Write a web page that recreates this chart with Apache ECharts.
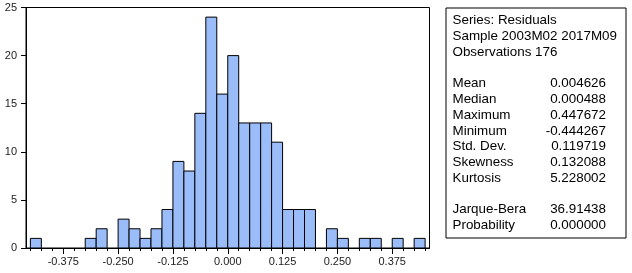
<!DOCTYPE html>
<html>
<head>
<meta charset="utf-8">
<script src="https://cdn.jsdelivr.net/npm/echarts@6/dist/echarts.min.js"></script>
<style>
  html, body { margin: 0; padding: 0; background: #fff; }
  #chart { width: 632px; height: 273px; }
</style>
</head>
<body>
<div id="chart"></div>
<script>
// histogram bins (lower edge, upper edge) and counts
const binLow = [-0.45, -0.425, -0.4, -0.375, -0.35, -0.325, -0.3, -0.275, -0.25, -0.225,
  -0.2, -0.175, -0.15, -0.125, -0.1, -0.075, -0.05, -0.025, 0, 0.025,
  0.05, 0.075, 0.1, 0.125, 0.15, 0.175, 0.2, 0.225, 0.25, 0.275,
  0.3, 0.325, 0.35, 0.375, 0.4, 0.425];
const binWidth = 0.025;
const counts = [1, 0, 0, 0, 0, 1, 2, 0, 3, 2,
  1, 2, 4, 9, 8, 14, 24, 16, 20, 13,
  13, 13, 11, 4, 4, 4, 0, 2, 1, 0,
  1, 1, 0, 1, 0, 1];
const xTickLabels = [-0.375, -0.25, -0.125, 0, 0.125, 0.25, 0.375];
const xMinorTicks = [-0.45, -0.425, -0.4, -0.375, -0.35, -0.325, -0.3, -0.275, -0.25, -0.225,
  -0.2, -0.175, -0.15, -0.125, -0.1, -0.075, -0.05, -0.025, 0, 0.025,
  0.05, 0.075, 0.1, 0.125, 0.15, 0.175, 0.2, 0.225, 0.25, 0.275,
  0.3, 0.325, 0.35, 0.375, 0.4, 0.425, 0.45];

// statistics box
const headerLines = ['Series: Residuals', 'Sample 2003M02 2017M09', 'Observations 176'];
const statNames = ['Mean', 'Median', 'Maximum', 'Minimum', 'Std. Dev.', 'Skewness', 'Kurtosis'];
const statValues = ['0.004626', '0.000488', '0.447672', '-0.444267', '0.119719', '0.132088', '5.228002'];
const testNames = ['Jarque-Bera', 'Probability'];
const testValues = ['36.91438', '0.000000'];

const chart = echarts.init(document.getElementById('chart'), null, { renderer: 'canvas' });

const FONT = 'Liberation Sans';
const boxTextSize = 13.4;
const lineStep = 15.75;
const firstLine = 21;

const boxTexts = [];
function addLine(i, label, value) {
  const y = firstLine + i * lineStep;
  boxTexts.push({
    type: 'text', left: 452.5, top: y - boxTextSize / 2,
    style: { text: label, fill: '#000', font: boxTextSize + 'px "' + FONT + '"' }
  });
  if (value !== undefined) {
    boxTexts.push({
      type: 'text', right: 632 - 606, top: y - boxTextSize / 2,
      style: { text: value, fill: '#000', font: boxTextSize + 'px "' + FONT + '"', align: 'right' }
    });
  }
}
headerLines.forEach((t, i) => addLine(i, t));
statNames.forEach((t, i) => addLine(4 + i, t, statValues[i]));
testNames.forEach((t, i) => addLine(12 + i, t, testValues[i]));

const barData = binLow.map((lo, i) => [lo, lo + binWidth, counts[i]]);

const option = {
  animation: false,
  grid: {
    left: 26, right: 202.5, top: 7.5, bottom: 25,
    show: true, borderColor: '#000', borderWidth: 1, backgroundColor: '#fff'
  },
  xAxis: [
    {
      type: 'value', min: -0.46, max: 0.46, position: 'bottom',
      axisLine: { show: true, onZero: false, lineStyle: { color: '#000', width: 1 } },
      axisTick: { show: true, customValues: xTickLabels, length: 6, lineStyle: { color: '#000' } },
      axisLabel: {
        customValues: xTickLabels, margin: 8, color: '#222',
        fontFamily: FONT, fontSize: 11,
        formatter: v => v.toFixed(3)
      },
      splitLine: { show: false }
    },
    {
      type: 'value', min: -0.46, max: 0.46, position: 'bottom', offset: 0,
      axisLine: { show: false, onZero: false },
      axisTick: { show: true, customValues: xMinorTicks, length: 3, lineStyle: { color: '#000' } },
      axisLabel: { show: false },
      splitLine: { show: false }
    }
  ],
  yAxis: {
    type: 'value', min: 0, max: 25, interval: 5, position: 'left',
    axisLine: { show: true, onZero: false, lineStyle: { color: '#000', width: 1 } },
    axisTick: { show: true, length: 5, lineStyle: { color: '#000' } },
    axisLabel: { margin: 9, color: '#222', fontFamily: FONT, fontSize: 11 },
    splitLine: { show: false }
  },
  series: [{
    type: 'custom',
    xAxisIndex: 0,
    data: barData,
    renderItem: function (params, api) {
      const c = api.value(2);
      if (!c) {
        return null;
      }
      const p0 = api.coord([api.value(0), c]);
      const p1 = api.coord([api.value(1), 0]);
      return {
        type: 'rect',
        shape: { x: p0[0], y: p0[1], width: p1[0] - p0[0], height: p1[1] - p0[1] },
        style: { fill: '#9abcf9', stroke: '#000', lineWidth: 1 }
      };
    }
  }],
  graphic: [
    {
      type: 'rect', left: 445.5, top: 7.5,
      shape: { width: 180, height: 230 },
      style: { fill: '#fff', stroke: '#000', lineWidth: 1 }
    }
  ].concat(boxTexts)
};

chart.setOption(option);
</script>
</body>
</html>
